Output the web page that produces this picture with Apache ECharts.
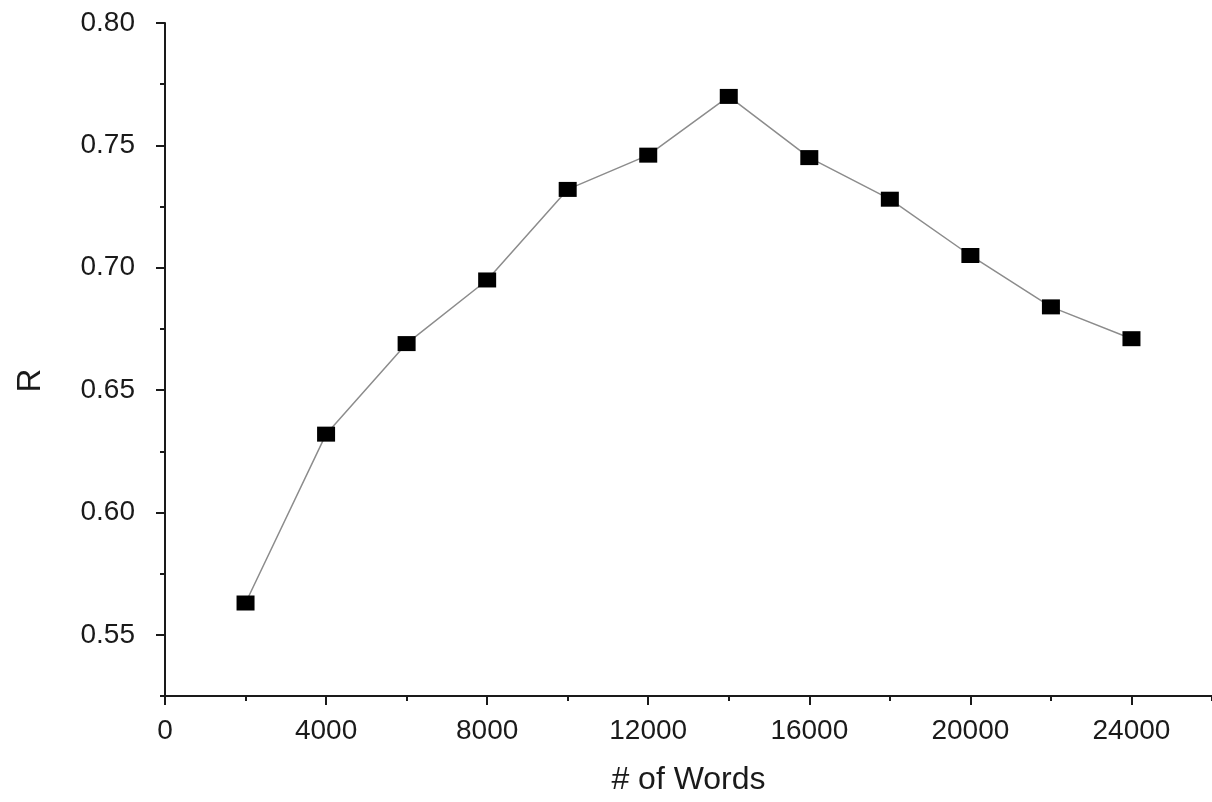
<!DOCTYPE html>
<html>
<head>
    <meta charset="utf-8">
    <title>R vs # of Words</title>
    <script src="https://cdn.jsdelivr.net/npm/echarts@6/dist/echarts.min.js"></script>
    <style>
        body, html {
            margin: 0;
            background: #fff;
        }
        #main {
            width: 1212px;
            height: 802px;
        }
    </style>
</head>
<body>
<div id="main"></div>
<script type="text/javascript">
    var words = [2000, 4000, 6000, 8000, 10000, 12000, 14000, 16000, 18000, 20000, 22000, 24000];
    var rValues = [0.563, 0.632, 0.669, 0.695, 0.732, 0.746, 0.770, 0.745, 0.728, 0.705, 0.684, 0.671];

    var points = [];
    for (var i = 0; i < words.length; i++) {
        points.push([words[i], rValues[i]]);
    }

    var font = '"Liberation Sans", Arial, sans-serif';
    var ink = '#1a1a1a';

    var myChart = echarts.init(document.getElementById('main'));

    var option = {
        backgroundColor: '#fff',
        animation: false,
        textStyle: {fontFamily: font},
        grid: {left: 165, top: 23, right: 0, bottom: 106, outerBoundsMode: 'none', containLabel: false},
        xAxis: [
            {
                type: 'value',
                min: 0,
                max: 26000,
                interval: 4000,
                name: '# of Words',
                nameLocation: 'middle',
                nameGap: 68,
                nameTextStyle: {fontSize: 32, color: ink, fontFamily: font},
                axisLine: {onZero: false, lineStyle: {color: ink, width: 2}},
                axisTick: {length: 9, lineStyle: {color: ink, width: 2}},
                axisLabel: {
                    fontSize: 28, color: ink, margin: 21,
                    showMaxLabel: false,
                    formatter: function (v) { return v % 4000 === 0 ? String(v) : ''; }
                },
                splitLine: {show: false}
            },
            {
                // minor ticks every 2000
                type: 'value',
                position: 'bottom',
                min: 0,
                max: 26000,
                interval: 2000,
                axisLine: {show: false, onZero: false},
                axisTick: {length: 5, lineStyle: {color: ink, width: 2}},
                axisLabel: {show: false},
                splitLine: {show: false}
            }
        ],
        yAxis: [
            {
                type: 'value',
                min: 0.525,
                max: 0.8,
                splitNumber: 5,
                name: 'R',
                nameLocation: 'middle',
                nameGap: 118,
                nameTextStyle: {fontSize: 33, color: ink, fontFamily: font, padding: [0, 42, 0, 0]},
                axisLine: {onZero: false, lineStyle: {color: ink, width: 2}},
                axisTick: {length: 9, lineStyle: {color: ink, width: 2}},
                axisLabel: {
                    fontSize: 28, color: ink, margin: 30,
                    showMinLabel: false,
                    formatter: function (v) { return v.toFixed(2); }
                },
                splitLine: {show: false}
            },
            {
                // minor ticks every 0.025
                type: 'value',
                position: 'left',
                min: 0.525,
                max: 0.8,
                interval: 0.025,
                axisLine: {show: false, onZero: false},
                axisTick: {length: 5, lineStyle: {color: ink, width: 2}},
                axisLabel: {show: false},
                splitLine: {show: false}
            }
        ],
        series: [
            {
                type: 'line',
                data: points,
                symbol: 'rect',
                symbolSize: [18, 15],
                itemStyle: {color: '#000'},
                lineStyle: {color: '#8c8c8c', width: 1.5}
            }
        ]
    };

    myChart.setOption(option);
</script>
</body>
</html>
